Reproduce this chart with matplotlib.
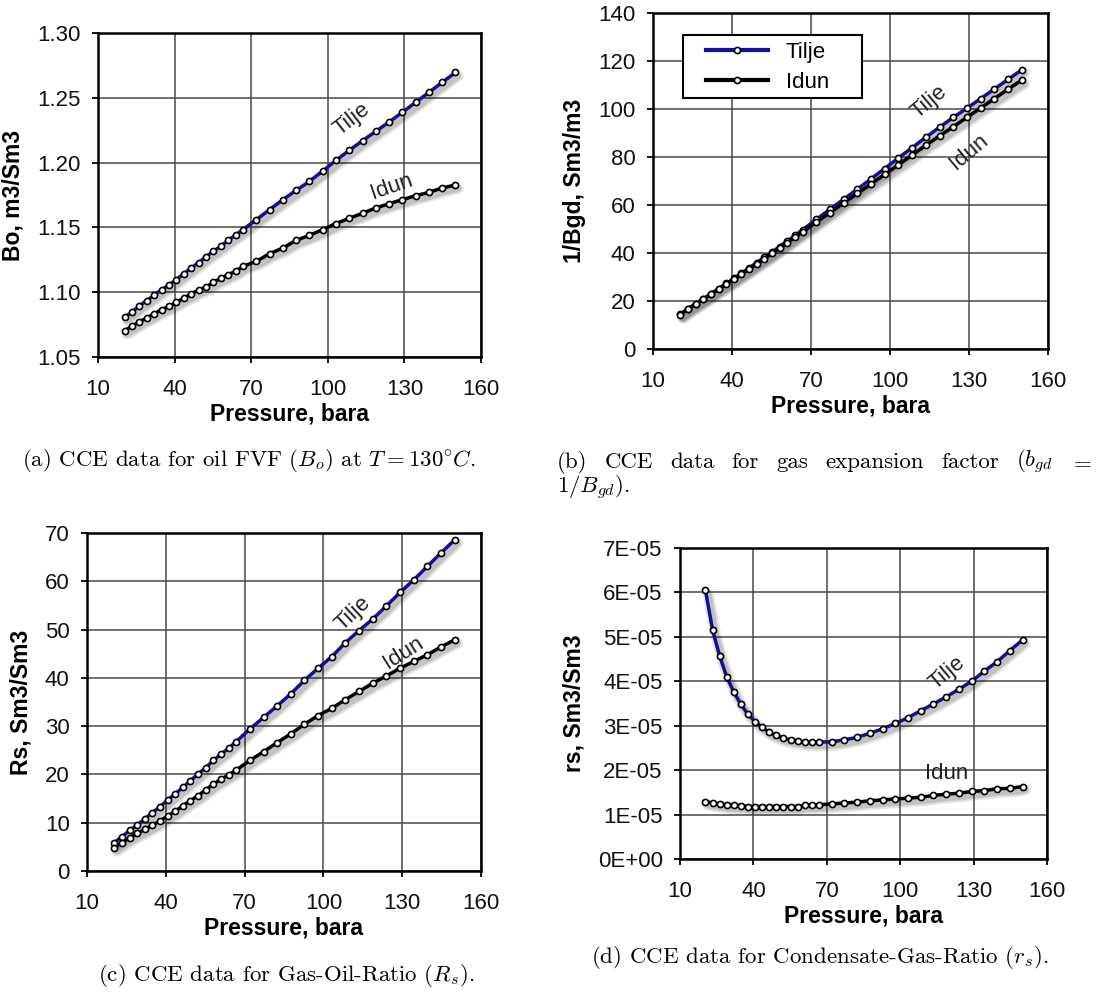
import numpy as np
import matplotlib
matplotlib.use("Agg")
import matplotlib.pyplot as plt
from matplotlib import patheffects as pe
from matplotlib.lines import Line2D
from matplotlib.patches import Rectangle
from matplotlib.ticker import FuncFormatter, MultipleLocator

plt.rcParams["font.family"] = ["Liberation Sans", "DejaVu Sans"]
plt.rcParams["mathtext.fontset"] = "cm"

# pressure steps of the CCE runs (bara)
pressure = [20.4, 23.3, 26.2, 29.1, 32.0, 34.9, 37.8, 40.7, 43.6, 46.5, 49.4,
            52.3, 55.2, 58.1, 61.0, 63.9, 66.8, 72.0, 77.2, 82.4, 87.6, 92.8,
            98.0, 103.2, 108.4, 113.6, 118.8, 124.0, 129.2, 134.4, 139.6,
            144.8, 150.0]
pressure_ticks = [10, 40, 70, 100, 130, 160]

# oil FVF, m3/Sm3
bo_tilje = [1.0806, 1.0847, 1.0896, 1.0935, 1.0978, 1.1020, 1.1056, 1.1097,
            1.1143, 1.1187, 1.1228, 1.1274, 1.1315, 1.1356, 1.1400, 1.1441,
            1.1483, 1.1560, 1.1637, 1.1714, 1.1786, 1.1855, 1.1935, 1.2017,
            1.2095, 1.2169, 1.2241, 1.2313, 1.2388, 1.2465, 1.2542, 1.2619,
            1.2696]
bo_idun = [1.0703, 1.0737, 1.0773, 1.0801, 1.0834, 1.0865, 1.0891, 1.0922,
           1.0955, 1.0986, 1.1017, 1.1040, 1.1076, 1.1107, 1.1136, 1.1161,
           1.1200, 1.1238, 1.1297, 1.1341, 1.1400, 1.1439, 1.1483, 1.1530,
           1.1570, 1.1609, 1.1650, 1.1683, 1.1714, 1.1745, 1.1770, 1.1804,
           1.1827]

# gas expansion factor 1/Bgd, Sm3/m3
bgd_tilje = [14.5, 16.8, 18.9, 20.9, 23.0, 25.2, 27.3, 29.4, 31.6, 33.8, 36.0,
             38.2, 40.4, 42.7, 45.0, 47.3, 49.7, 54.0, 58.2, 62.4, 66.6, 70.9,
             75.2, 79.6, 83.9, 88.2, 92.4, 96.5, 100.3, 104.3, 108.3, 112.3,
             116.3]
bgd_idun = [14.3, 16.6, 18.7, 20.7, 22.8, 24.9, 27.0, 29.1, 31.2, 33.3, 35.5,
            37.6, 39.8, 42.0, 44.2, 46.5, 48.8, 52.8, 56.8, 60.8, 64.8, 68.8,
            72.8, 76.8, 80.8, 84.9, 88.8, 92.6, 96.5, 100.4, 104.3, 108.2,
            112.0]

# solution gas-oil ratio Rs, Sm3/Sm3
rs_tilje = [5.9, 7.1, 8.4, 9.5, 10.8, 12.1, 13.3, 14.7, 16.0, 17.3, 18.7,
            20.1, 21.4, 22.9, 24.2, 25.4, 26.8, 29.4, 31.8, 34.2, 36.7, 39.5,
            42.0, 44.4, 47.3, 49.8, 52.2, 54.9, 57.7, 60.3, 63.1, 65.9, 68.6]
rs_idun = [4.8, 5.9, 6.9, 7.8, 8.6, 9.5, 10.4, 11.4, 12.4, 13.5, 14.6, 15.6,
           16.8, 18.0, 19.0, 19.9, 20.9, 22.9, 24.7, 26.6, 28.4, 30.4, 32.2,
           33.7, 35.5, 37.2, 38.9, 40.4, 42.0, 43.4, 44.8, 46.4, 47.9]

# condensate-gas ratio rs, Sm3/Sm3 (in units of 1E-05)
cgr_tilje = [6.05, 5.16, 4.57, 4.10, 3.76, 3.48, 3.26, 3.09, 2.96, 2.85, 2.78,
             2.72, 2.68, 2.66, 2.63, 2.63, 2.63, 2.64, 2.68, 2.74, 2.83, 2.93,
             3.05, 3.18, 3.34, 3.49, 3.65, 3.82, 4.00, 4.23, 4.44, 4.69, 4.93]
cgr_idun = [1.29, 1.26, 1.24, 1.21, 1.21, 1.20, 1.18, 1.18, 1.18, 1.18, 1.18,
            1.18, 1.18, 1.18, 1.21, 1.21, 1.22, 1.24, 1.26, 1.28, 1.31, 1.33,
            1.35, 1.37, 1.39, 1.43, 1.46, 1.48, 1.52, 1.54, 1.58, 1.59, 1.63]
cgr_tilje = [v * 1e-5 for v in cgr_tilje]
cgr_idun = [v * 1e-5 for v in cgr_idun]

TILJE_COLOR = "#10109a"
IDUN_COLOR = "#000000"

SHADOW = [pe.SimpleLineShadow(offset=(2, -2.5), shadow_color="k", alpha=0.10, linewidth=8),
          pe.SimpleLineShadow(offset=(2, -2.5), shadow_color="k", alpha=0.15, linewidth=5),
          pe.Normal()]

W, H = 1110, 996
fig = plt.figure(figsize=(W / 100, H / 100), dpi=100)


def px_axes(left, top, right, bottom):
    return fig.add_axes([left / W, 1 - bottom / H, (right - left) / W, (bottom - top) / H])


def draw_series(ax, x, y, color):
    ax.plot(x, y, color=color, lw=2.5, solid_capstyle="round", path_effects=SHADOW, zorder=3)
    ax.plot(x, y, ls="none", marker="o", ms=4.4, mfc="white", mec="black", mew=1.2, zorder=4)


def style_axes(ax, ylim, ystep, ylabel):
    ax.set_xlim(10, 160)
    ax.set_xticks(pressure_ticks)
    ax.set_ylim(*ylim)
    ax.yaxis.set_major_locator(MultipleLocator(ystep))
    ax.grid(True, color="#4a4a4a", lw=1.3, alpha=0.85)
    ax.set_axisbelow(True)
    for s in ax.spines.values():
        s.set_color("black")
        s.set_linewidth(1.8)
    ax.tick_params(axis="both", direction="out", length=4.5, width=1.3, labelsize=16,
                   colors="black", labelcolor="#111111")
    ax.tick_params(axis="x", pad=11)
    ax.tick_params(axis="y", pad=8)
    ax.set_xlabel("Pressure, bara", fontsize=16.5, fontweight="bold", labelpad=2)
    ax.set_ylabel(ylabel, fontsize=16.5, fontweight="bold", labelpad=9)


LABEL_KW = dict(fontsize=16, color="#222222", ha="center", va="center", zorder=5)

# (a) oil FVF
ax = px_axes(98, 33, 481, 357)
draw_series(ax, pressure, bo_tilje, TILJE_COLOR)
draw_series(ax, pressure, bo_idun, IDUN_COLOR)
style_axes(ax, (1.05, 1.30), 0.05, "Bo, m3/Sm3")
ax.yaxis.set_major_formatter(FuncFormatter(lambda v, p: f"{v:.2f}"))
ax.text(109.5, 1.233, "Tilje", rotation=38, **LABEL_KW)
ax.text(125.1, 1.181, "Idun", rotation=19, **LABEL_KW)

# (b) gas expansion factor
ax = px_axes(653, 13, 1048, 349)
draw_series(ax, pressure, bgd_tilje, TILJE_COLOR)
draw_series(ax, pressure, bgd_idun, IDUN_COLOR)
style_axes(ax, (0, 140), 20, "1/Bgd, Sm3/m3")
ax.text(114.7, 103.0, "Tilje", rotation=40, **LABEL_KW)
ax.text(129.9, 82.2, "Idun", rotation=40, **LABEL_KW)
ax.add_patch(Rectangle((0.076, 0.747), 0.453, 0.1875, transform=ax.transAxes,
                       facecolor="white", edgecolor="black", lw=1.5, zorder=5))
handles = [Line2D([], [], color=c, lw=3, marker="o", ms=4.4, mfc="white", mec="black", mew=1.2)
           for c in (TILJE_COLOR, IDUN_COLOR)]
leg = ax.legend(handles, ["Tilje", "Idun"], loc="upper left", bbox_to_anchor=(0.134, 0.915),
                borderaxespad=0, borderpad=0, fontsize=16, frameon=False,
                handlelength=2.8, handletextpad=0.8, labelspacing=0.42)
leg.set_zorder(6)

# (c) gas-oil ratio
ax = px_axes(87, 533, 481, 871)
draw_series(ax, pressure, rs_tilje, TILJE_COLOR)
draw_series(ax, pressure, rs_idun, IDUN_COLOR)
style_axes(ax, (0, 70), 10, "Rs, Sm3/Sm3")
ax.text(111.4, 53.4, "Tilje", rotation=43, **LABEL_KW)
ax.text(130.5, 45.1, "Idun", rotation=32, **LABEL_KW)

# (d) condensate-gas ratio
ax = px_axes(680, 548, 1047, 859)
draw_series(ax, pressure, cgr_tilje, TILJE_COLOR)
draw_series(ax, pressure, cgr_idun, IDUN_COLOR)
style_axes(ax, (0, 7e-5), 1e-5, "rs, Sm3/Sm3")
ax.yaxis.set_major_formatter(FuncFormatter(lambda v, p: f"{v:.0E}"))
ax.text(119.1, 4.18e-5, "Tilje", rotation=40, **LABEL_KW)
ax.text(119.1, 1.93e-5, "Idun", rotation=0, **LABEL_KW)

# sub-figure captions
CAP_KW = dict(fontsize=16.5, family="cmr10", color="black", va="center")


def justified(words, x0, x1, y):
    """Spread words over [x0, x1] pixels like a justified LaTeX line."""
    renderer = fig.canvas.get_renderer()
    texts = [fig.text(0, 1 - y / H, w, ha="left", **CAP_KW) for w in words]
    widths = [t.get_window_extent(renderer).width for t in texts]
    gap = (x1 - x0 - sum(widths)) / (len(words) - 1)
    x = x0
    for t, w in zip(texts, widths):
        t.set_x(x / W)
        x += w + gap


fig.text(22 / W, 1 - 460 / H,
         r"(a) CCE data for oil FVF $(B_o)$ at $T = 130^{\circ}C$.", ha="left", **CAP_KW)
justified(["(b)", "CCE", "data", "for", "gas", "expansion", "factor", r"$(b_{gd}$", r"$=$"],
          557, 1092, 462)
fig.text(557 / W, 1 - 488 / H, r"$1/B_{gd})$.", ha="left", **CAP_KW)
fig.text(286 / W, 1 - 975 / H,
         r"(c) CCE data for Gas-Oil-Ratio $(R_s)$.", ha="center", **CAP_KW)
fig.text(820 / W, 1 - 957 / H,
         r"(d) CCE data for Condensate-Gas-Ratio $(r_s)$.", ha="center", **CAP_KW)

fig.savefig("out.png", dpi=100, facecolor="white")
